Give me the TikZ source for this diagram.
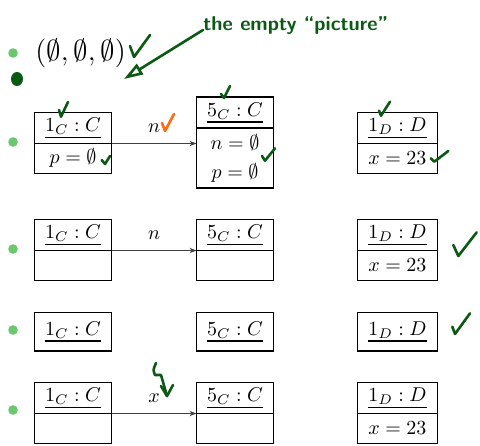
\documentclass[tikz,border=0pt]{standalone}
\usepackage{amsmath}
\usepackage{amssymb}
\usepackage[HTML]{xcolor}
\usetikzlibrary{positioning, arrows.meta}

\definecolor{bulletgreen}{HTML}{6CC86C}
\definecolor{pengreen}{HTML}{0B5A14}
\definecolor{penorange}{HTML}{FF6A12}

% object name, underlined with a heavier rule
\newcommand{\objname}[1]{\vtop{\hbox{$#1$}\kern1.1pt\hrule height 0.7pt}}

\begin{document}
\begin{tikzpicture}[
    x=0.5pt, y=-0.5pt,
    >={Stealth[length=3.5pt, width=2.6pt]},
    every node/.style={font=\normalsize},
    objhead/.style={draw, line width=0.8pt, outer sep=0pt, inner sep=0pt,
                    minimum width=38.5pt, minimum height=15.6pt},
    objbody/.style={objhead, minimum height=14.9pt},
    bullet/.style={circle, fill=bulletgreen, minimum size=4.8pt, inner sep=0pt},
    link/.style={->, draw=black!75, line width=0.45pt},
    pen/.style={draw=pengreen, line width=1.3pt, line cap=round, line join=round}
]
    \useasboundingbox (0,0) rectangle (480,445);

    % bullets
    \foreach \by [count=\i] in {53,142,249,330,410}
        \node[bullet] (b\i) at (13,\by) {};

    % first item
    \node[anchor=west, inner sep=0pt, font=\fontsize{13.4}{16}\selectfont]
        (tuple) at (35,53.5) {$(\emptyset,\emptyset,\emptyset)$};

    % second item
    \node[objhead, anchor=north] (c1h) at (73,112.3) {\objname{1_C : C}};
    \node[objbody, below=0pt of c1h] (c1b) {$p = \emptyset$};
    \node[objhead, anchor=north] (c5h) at (235,97) {\objname{5_C : C}};
    \node[objbody, below=0pt of c5h, minimum height=29.75pt, align=center]
        (c5b) {$n = \emptyset$\\[2.5pt]$p = \emptyset$};
    \node[objhead, anchor=north, minimum width=40pt] (d1h) at (397.4,112.3) {\objname{1_D : D}};
    \node[objbody, below=0pt of d1h, minimum width=40pt] (d1b) {$x = 23$};
    \draw[link] (c1h.south east) -- node[above=2pt] {$n$} (c1h.south east -| c5h.west);

    % third item
    \node[objhead, anchor=north] (c1h') at (73,219.3) {\objname{1_C : C}};
    \node[objbody, below=0pt of c1h'] (c1b') {};
    \node[objhead, anchor=north] (c5h') at (235,219.3) {\objname{5_C : C}};
    \node[objbody, below=0pt of c5h'] (c5b') {};
    \node[objhead, anchor=north, minimum width=40pt] (d1h') at (397.4,219.3) {\objname{1_D : D}};
    \node[objbody, below=0pt of d1h', minimum width=40pt] (d1b') {$x = 23$};
    \draw[link] (c1h'.south east) -- node[above=2pt] {$n$} (c5h'.south west);

    % fourth item
    \node[objhead, anchor=north, minimum height=19.3pt] (c1s) at (73,312.3) {\objname{1_C : C}};
    \node[objhead, anchor=north, minimum height=19.3pt] (c5s) at (235,312.3) {\objname{5_C : C}};
    \node[objhead, anchor=north, minimum height=19.3pt, minimum width=40pt] (d1s) at (397.4,312.3) {\objname{1_D : D}};

    % fifth item
    \node[objhead, anchor=north] (c1h'') at (73,382.3) {\objname{1_C : C}};
    \node[objbody, below=0pt of c1h''] (c1b'') {};
    \node[objhead, anchor=north] (c5h'') at (235,382.3) {\objname{5_C : C}};
    \node[objbody, below=0pt of c5h''] (c5b'') {};
    \node[objhead, anchor=north, minimum width=40pt] (d1h'') at (397.4,382.3) {\objname{1_D : D}};
    \node[objbody, below=0pt of d1h'', minimum width=40pt] (d1b'') {$x = 23$};
    \draw[link] (c1h''.south east) -- node[above=2pt] {$x$} (c5h''.south west);

    % pen notes
    \node[anchor=base west, inner sep=0pt, text=pengreen,
          font=\sffamily\bfseries\fontsize{10}{12}\selectfont]
        (note) at (203,30) {the empty ``picture''};
    \coordinate (emptyset) at (124,79);
    \draw[pen, -{Triangle[open, length=9.5pt, width=6pt]}] (note.base west) -- (emptyset);
    \fill[pengreen] (17,79) ellipse [x radius=6, y radius=7];

    % ticks: short end, corner, long end
    \foreach \ax/\ay/\vx/\vy/\ex/\ey in {
        130/46/134/57/150/35, 59/110/61/116.7/68/102, 101.7/160/105/164/110/156,
        221/94/224/98/230/86, 262/156/265/160.7/275/148.3, 379/110.7/381/115.7/390/101.7,
        430.7/158.3/434.3/161.7/448.3/151, 453.3/245/458.3/256/476.7/232.3,
        452.3/326.7/455/334/470/313.3}
        \draw[pen] (\ax,\ay) -- (\vx,\vy) -- (\ex,\ey);
    \draw[pen, draw=penorange] (162,123) -- (165,131) -- (174,114);

    % lightning over x
    \draw[pen] (156,363) .. controls (153,370) .. (155,375) -- (161,375) -- (167,396);
    \draw[pen] (161,386) -- (167,396) -- (173,385);
\end{tikzpicture}
\end{document}
